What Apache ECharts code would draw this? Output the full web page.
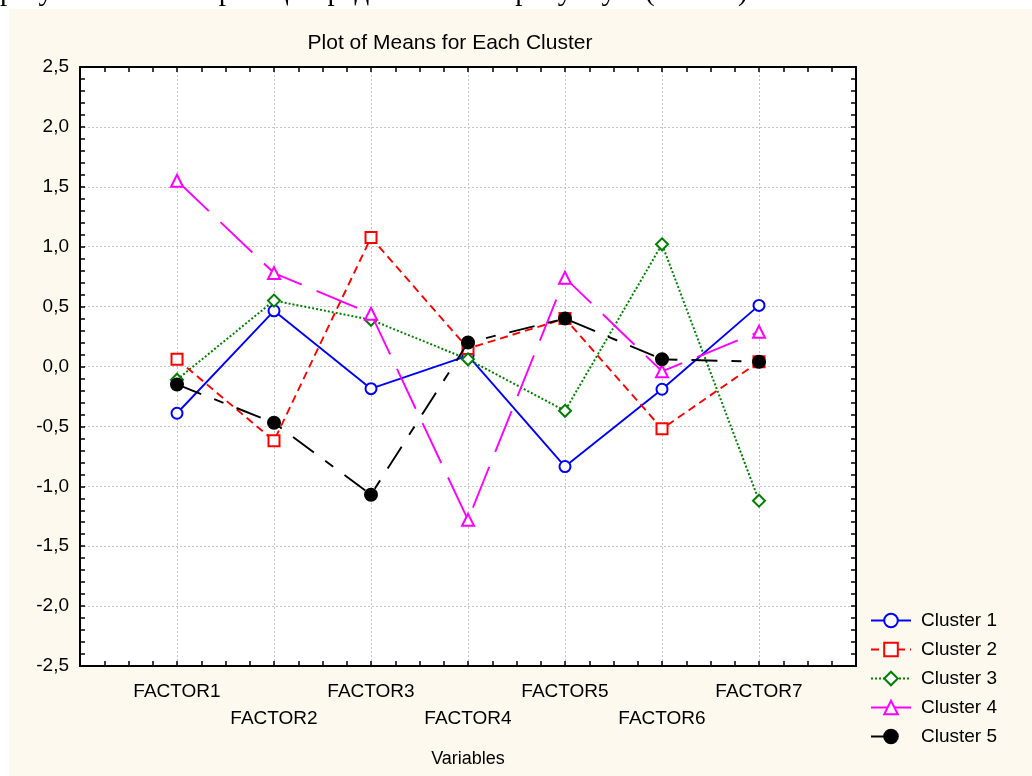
<!DOCTYPE html>
<html>
<head>
<meta charset="utf-8">
<script src="https://cdn.jsdelivr.net/npm/echarts@6/dist/echarts.min.js"></script>
<style>
  html, body { margin: 0; padding: 0; background: #ffffff; }
  #chart { width: 1032px; height: 776px; }
</style>
</head>
<body>
<div id="chart"></div>
<script>
// ---- data ----
const categories = ['FACTOR1', 'FACTOR2', 'FACTOR3', 'FACTOR4', 'FACTOR5', 'FACTOR6', 'FACTOR7'];
const seriesNames = ['Cluster 1', 'Cluster 2', 'Cluster 3', 'Cluster 4', 'Cluster 5'];
const cluster1 = [-0.39, 0.465, -0.185, 0.09, -0.835, -0.19, 0.51];
const cluster2 = [0.06, -0.62, 1.077, 0.15, 0.40, -0.52, 0.04];
const cluster3 = [-0.11, 0.55, 0.39, 0.06, -0.37, 1.02, -1.12];
const cluster4 = [1.55, 0.78, 0.44, -1.28, 0.74, -0.04, 0.29];
const cluster5 = [-0.15, -0.47, -1.07, 0.20, 0.40, 0.06, 0.04];
const yMin = -2.5, yMax = 2.5, yStep = 0.5;
const titleText = 'Plot of Means for Each Cluster';
const xAxisTitle = 'Variables';
const topLine = 'результати кластеризації представлені на рисунку 5 (табл. 5).';

// ---- styling ----
const FONT = '"Liberation Sans", Arial, sans-serif';
const CREAM = '#fdf9ee';
const styles = [
  { color: '#0000ff', type: 'solid', symbol: 'emptyCircle', size: 11, width: 1.9 },
  { color: '#ff0000', type: [8, 5], symbol: 'emptyRect', size: 11, width: 1.9 },
  { color: '#008000', type: [2, 2], symbol: 'emptyDiamond', size: 12, width: 2 },
  { color: '#ff00ff', type: [44, 16], symbol: 'emptyTriangle', size: 12, width: 1.9 },
  { color: '#000000', type: [26, 14, 10, 14], symbol: 'circle', size: 12, width: 1.9 }
];
const allData = [cluster1, cluster2, cluster3, cluster4, cluster5];

const series = allData.map((vals, k) => ({
  name: seriesNames[k],
  type: 'line',
  xAxisIndex: 0,
  yAxisIndex: 0,
  data: vals.map((v, i) => [i + 1, v]),
  symbol: styles[k].symbol,
  symbolSize: styles[k].size,
  lineStyle: { color: styles[k].color, type: styles[k].type, width: styles[k].width },
  itemStyle: { color: styles[k].color, borderColor: styles[k].color, borderWidth: 2 },
  emphasis: { disabled: true },
  animation: false,
  z: 3 + k
}));

const tickCommon = { show: true, inside: true, length: 5, lineStyle: { color: '#000', width: 1.5 } };
const axisLineCommon = { show: true, onZero: false, lineStyle: { color: '#000', width: 2 } };
const gridLine = { show: true, lineStyle: { color: '#c4c4c4', type: [2, 2], width: 1 } };

const chart = echarts.init(document.getElementById('chart'), null, { renderer: 'canvas' });
chart.setOption({
  backgroundColor: '#ffffff',
  animation: false,
  title: {
    text: titleText,
    left: 445,
    top: 28,
    textAlign: 'center',
    textStyle: { fontFamily: FONT, fontSize: 21, fontWeight: 'normal', color: '#000' }
  },
  graphic: [
    { type: 'rect', z: -10, silent: true, shape: { x: 9, y: 9, width: 1023, height: 767 }, style: { fill: CREAM } },
    { type: 'text', z: -5, silent: true, style: { text: topLine, x: 0, y: 7, fill: '#000', font: '29px "Liberation Serif", "Times New Roman", serif', verticalAlign: 'bottom' } }
  ],
  grid: {
    left: 80, right: 176, top: 67, bottom: 110,
    show: true, backgroundColor: '#ffffff', borderWidth: 0
  },
  legend: {
    orient: 'vertical',
    left: 865,
    top: 606,
    padding: 5,
    itemWidth: 40,
    itemHeight: 17,
    itemGap: 10,
    data: seriesNames,
    textStyle: { fontFamily: FONT, fontSize: 19, color: '#000', padding: [0, 0, 0, 5] },
    selectedMode: false
  },
  xAxis: [
    {
      type: 'value', position: 'bottom', min: 0, max: 8, interval: 1,
      axisLine: axisLineCommon,
      axisTick: tickCommon,
      minorTick: { show: true, splitNumber: 4, length: 5, lineStyle: { color: '#000', width: 1.5 } },
      splitLine: gridLine,
      axisLabel: {
        margin: 12,
        fontFamily: FONT, fontSize: 19, color: '#000', lineHeight: 27,
        formatter: function (v) {
          const i = Math.round(v);
          if (i < 1 || i > categories.length) return '';
          return i % 2 === 0 ? '\n' + categories[i - 1] : categories[i - 1];
        }
      },
      name: xAxisTitle,
      nameLocation: 'middle',
      nameGap: 84,
      nameTextStyle: { fontFamily: FONT, fontSize: 18, color: '#000' }
    },
    {
      type: 'value', position: 'top', min: 0, max: 8, interval: 1,
      axisLine: axisLineCommon,
      axisTick: tickCommon,
      minorTick: { show: true, splitNumber: 4, length: 5, lineStyle: { color: '#000', width: 1.5 } },
      splitLine: { show: false },
      axisLabel: { show: false }
    }
  ],
  yAxis: [
    {
      type: 'value', position: 'left', min: yMin, max: yMax, interval: yStep,
      axisLine: axisLineCommon,
      axisTick: tickCommon,
      minorTick: { show: true, splitNumber: 5, length: 5, lineStyle: { color: '#000', width: 1.5 } },
      splitLine: gridLine,
      axisLabel: {
        margin: 11,
        fontFamily: FONT, fontSize: 19, color: '#000',
        formatter: function (v) { return v.toFixed(1).replace('.', ','); }
      }
    },
    {
      type: 'value', position: 'right', min: yMin, max: yMax, interval: yStep,
      axisLine: axisLineCommon,
      axisTick: tickCommon,
      minorTick: { show: true, splitNumber: 5, length: 5, lineStyle: { color: '#000', width: 1.5 } },
      splitLine: { show: false },
      axisLabel: { show: false }
    }
  ],
  series: series
});
</script>
</body>
</html>
